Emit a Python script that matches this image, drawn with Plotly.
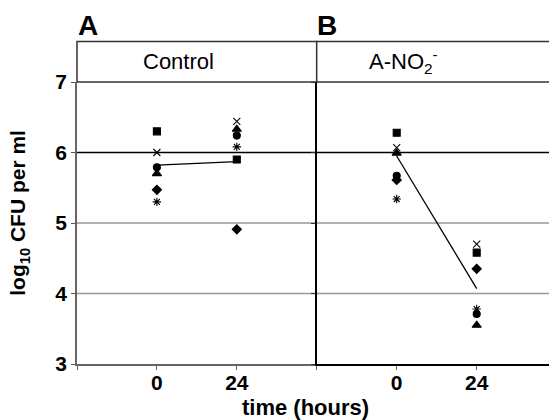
import plotly.graph_objects as go

# ---- data ----
times = ["0", "24"]
panels = ["Control", "A-NO<sub>2</sub><sup>-</sup>"]
series_names = ["square", "x", "circle", "triangle", "diamond", "asterisk"]
control_vals = {
    "square":   [6.30, 5.90],
    "x":        [6.00, 6.44],
    "circle":   [5.79, 6.24],
    "triangle": [5.70, 6.33],
    "diamond":  [5.47, 4.91],
    "asterisk": [5.30, 6.08],
}
ano2_vals = {
    "square":   [6.28, 4.58],
    "x":        [6.07, 4.70],
    "circle":   [5.67, 3.71],
    "triangle": [5.99, 3.55],
    "diamond":  [5.61, 4.35],
    "asterisk": [5.34, 3.78],
}
control_line = [5.82, 5.87]
ano2_line = [5.95, 4.07]
y_ticks = [3, 4, 5, 6, 7]

symbols = {
    "square": ("square", 7),
    "x": ("x-thin", 7),
    "circle": ("circle", 7),
    "triangle": ("triangle-up", 8),
    "diamond": ("diamond", 7),
    "asterisk": ("asterisk", 7),
}

FONT = "Liberation Sans, Arial, sans-serif"
W, H = 549, 420
ml, mr, mt, mb = 77, 0, 81.5, 56
pw = W - ml - mr
ph = H - mt - mb
split = (316.7 - ml) / pw

xpos = list(range(len(times)))

fig = go.Figure()
for vals, xa, ya in [(control_vals, "x", "y"), (ano2_vals, "x2", "y2")]:
    for name in series_names:
        sym, sz = symbols[name]
        fig.add_trace(go.Scatter(
            x=xpos, y=vals[name], mode="markers", xaxis=xa, yaxis=ya,
            marker=dict(symbol=sym, size=sz, color="black",
                        line=dict(color="black", width=1.1)),
            showlegend=False, cliponaxis=False))
for line, xa, ya in [(control_line, "x", "y"), (ano2_line, "x2", "y2")]:
    fig.add_trace(go.Scatter(x=xpos, y=line, mode="lines", xaxis=xa, yaxis=ya,
                             line=dict(color="black", width=1.3), showlegend=False))

tickfont = dict(family=FONT, size=21, color="black", weight="bold")
xcommon = dict(tickvals=[-1, 0, 1, 2], ticktext=["", "0", "24", ""],
               ticks="outside", ticklen=4, tickcolor="#555", showgrid=False,
               zeroline=False, showline=True, linewidth=1.5,
               tickfont=tickfont, ticklabelstandoff=-5)
fig.update_layout(
    width=W, height=H,
    margin=dict(l=ml, r=mr, t=mt, b=mb),
    paper_bgcolor="white", plot_bgcolor="white",
    xaxis=dict(domain=[0, split], range=[-1, 2], linecolor="#666", **xcommon),
    xaxis2=dict(domain=[split, 1], range=[-1, -1 + (W - 316.7) / 80.0],
                anchor="y2", linecolor="black", **xcommon),
    yaxis=dict(range=[3, 7], tickvals=y_ticks, ticks="outside", ticklen=4,
               tickcolor="#555", showline=True, linecolor="#666", linewidth=1.5,
               showgrid=False, zeroline=False, tickfont=tickfont),
    yaxis2=dict(range=[3, 7], anchor="x2", matches="y", showticklabels=False,
                tickvals=y_ticks, ticks="outside", ticklen=4, tickcolor="#333",
                showline=True, linecolor="black", linewidth=1.5,
                showgrid=False, zeroline=False),
)

shapes = []
# horizontal gridlines (6 drawn darker, as in the original)
for g in y_ticks[1:-1]:
    col = "black" if g == 6 else "#999"
    for xa, ya in [("x", "y"), ("x2", "y2")]:
        shapes.append(dict(type="line", xref=f"{xa} domain", yref=ya, x0=0, x1=1,
                           y0=g, y1=g, line=dict(color=col, width=1.3), layer="below"))
# strip boxes
strip_h = 40.5 / ph
for x0, x1 in [(0, split), (split, 1.2)]:
    shapes.append(dict(type="rect", xref="paper", yref="paper", x0=x0, x1=x1,
                       y0=1, y1=1 + strip_h, line=dict(color="#333", width=1.5),
                       fillcolor="white"))
fig.update_layout(shapes=shapes)

def px_x(px):
    return (px - ml) / pw

def px_y(py):
    return (mt + ph - py) / ph

ann = []
for txt, cx in [(panels[0], 178), (panels[1], 403)]:
    ann.append(dict(text=txt, xref="paper", yref="paper", x=px_x(cx),
                    y=1 + strip_h / 2, showarrow=False, xanchor="center", yanchor="middle",
                    font=dict(family=FONT, size=22, color="black")))
for letter, lx in [("A", 75.5), ("B", 315)]:
    ann.append(dict(text=f"<b>{letter}</b>", xref="paper", yref="paper",
                    x=px_x(lx), y=px_y(24.5), showarrow=False,
                    xanchor="left", yanchor="middle",
                    font=dict(family=FONT, size=28, color="black")))
ann.append(dict(text="<b>log<sub>10</sub> CFU per ml</b>", xref="paper", yref="paper",
                x=px_x(19), y=px_y(212.5), textangle=-90, showarrow=False,
                xanchor="center", yanchor="middle",
                font=dict(family=FONT, size=21, color="black")))
ann.append(dict(text="<b>time (hours)</b>", xref="paper", yref="paper",
                x=px_x(305), y=px_y(408), showarrow=False,
                xanchor="center", yanchor="middle",
                font=dict(family=FONT, size=22, color="black")))
fig.update_layout(annotations=ann)

fig.write_html("out.html", config={"displayModeBar": False},
               post_script="document.body.style.margin='0px';document.body.style.padding='0px';")
